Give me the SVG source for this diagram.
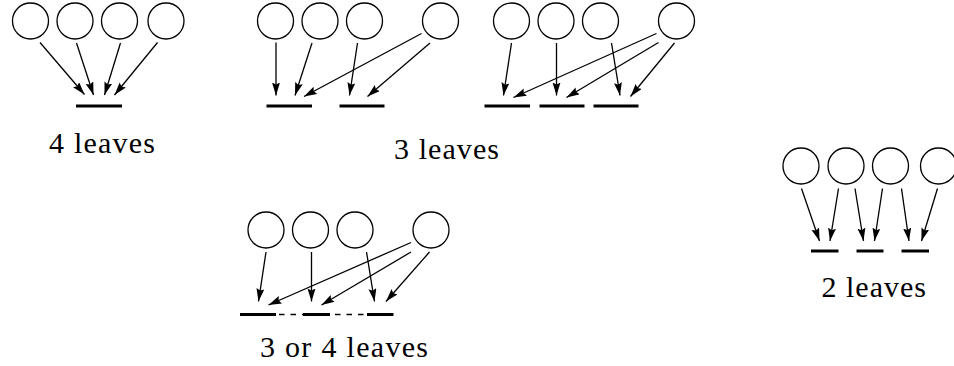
<svg xmlns="http://www.w3.org/2000/svg" width="954" height="366" viewBox="0 0 954 366">
<style>
.n{fill:#fff;stroke:#000;stroke-width:1.3}
.a{stroke:#000;stroke-width:1.3;fill:none;marker-end:url(#ah)}
.b{stroke:#000;stroke-width:3;fill:none}
.d{stroke:#000;stroke-width:1.4;fill:none;stroke-dasharray:5.5 6}
.t{font-family:"Liberation Serif","DejaVu Serif",serif;font-size:30px;fill:#000}
</style>
<defs>
<marker id="ah" markerUnits="userSpaceOnUse" markerWidth="14" markerHeight="9" refX="13" refY="4" orient="auto">
<path d="M0,0 L13,4 L0,8 L2,4 z" fill="#000"/>
</marker>
</defs>
<rect width="954" height="366" fill="#fff"/>
<g id="p1">
<circle class="n" cx="30.5" cy="21" r="18"/>
<circle class="n" cx="75" cy="21" r="18"/>
<circle class="n" cx="119.5" cy="21" r="18"/>
<circle class="n" cx="166" cy="21" r="18"/>
<line class="b" x1="76" y1="106" x2="122" y2="106"/>
<text class="t" x="49" y="152.5" textLength="106" lengthAdjust="spacing">4 leaves</text>
</g>
<g id="p2">
<circle class="n" cx="275.5" cy="21" r="18"/>
<circle class="n" cx="320" cy="21" r="18"/>
<circle class="n" cx="364.5" cy="21" r="18"/>
<circle class="n" cx="440.5" cy="21" r="18"/>
<line class="b" x1="266.5" y1="106" x2="312" y2="106"/>
<line class="b" x1="339.5" y1="106" x2="384.5" y2="106"/>
<text class="t" x="394" y="158.5" textLength="105" lengthAdjust="spacing">3 leaves</text>
</g>
<g id="p3">
<circle class="n" cx="511.5" cy="21" r="18"/>
<circle class="n" cx="556" cy="21" r="18"/>
<circle class="n" cx="600.5" cy="21" r="18"/>
<circle class="n" cx="676.5" cy="21" r="18"/>
<line class="b" x1="484.5" y1="106" x2="530" y2="106"/>
<line class="b" x1="539.5" y1="106" x2="584.5" y2="106"/>
<line class="b" x1="593.5" y1="106" x2="638.5" y2="106"/>
</g>
<g id="p4">
<circle class="n" cx="266" cy="230" r="18"/>
<circle class="n" cx="310.5" cy="230" r="18"/>
<circle class="n" cx="355" cy="230" r="18"/>
<circle class="n" cx="431" cy="230" r="18"/>
<line class="b" x1="240" y1="314.5" x2="276" y2="314.5"/>
<line class="d" x1="276" y1="314.5" x2="303" y2="314.5" stroke-dashoffset="-3"/>
<line class="b" x1="303" y1="314.5" x2="330" y2="314.5"/>
<line class="d" x1="330" y1="314.5" x2="367" y2="314.5" stroke-dashoffset="-5"/>
<line class="b" x1="367" y1="314.5" x2="393.5" y2="314.5"/>
<text class="t" x="260" y="357" textLength="168" lengthAdjust="spacing">3 or 4 leaves</text>
</g>
<g id="p5">
<circle class="n" cx="801" cy="166" r="18"/>
<circle class="n" cx="846" cy="166" r="18"/>
<circle class="n" cx="890.5" cy="166" r="18"/>
<circle class="n" cx="938.5" cy="166" r="18"/>
<line class="b" x1="811" y1="251" x2="838.5" y2="251"/>
<line class="b" x1="856.5" y1="251" x2="883.5" y2="251"/>
<line class="b" x1="901.5" y1="251" x2="929" y2="251"/>
<text class="t" x="821.5" y="296.5" textLength="104.5" lengthAdjust="spacing">2 leaves</text>
</g>
<g id="connectors">
<line class="a" x1="40" y1="42.5" x2="84.5" y2="94.5"/>
<line class="a" x1="76.5" y1="43" x2="93.5" y2="95"/>
<line class="a" x1="120.5" y1="43" x2="104.5" y2="95"/>
<line class="a" x1="157.5" y1="42.5" x2="114.5" y2="95"/>

<line class="a" x1="276" y1="42.5" x2="276" y2="95.5"/>
<line class="a" x1="312" y1="43" x2="295" y2="95.5"/>
<line class="a" x1="357.5" y1="43" x2="349.5" y2="95.5"/>
<line class="a" x1="421.5" y1="33.5" x2="304" y2="96.5"/>
<line class="a" x1="430" y1="43" x2="367.5" y2="96.5"/>

<line class="a" x1="511.5" y1="43" x2="503.5" y2="95.5"/>
<line class="a" x1="556.5" y1="43" x2="556.5" y2="95.5"/>
<line class="a" x1="611.5" y1="43" x2="620" y2="95.5"/>
<line class="a" x1="656.5" y1="33.5" x2="513.5" y2="97.5"/>
<line class="a" x1="658.5" y1="42.5" x2="566.5" y2="97.5"/>
<line class="a" x1="674.5" y1="43" x2="630.5" y2="96.5"/>

<line class="a" x1="266" y1="252" x2="258.5" y2="301.5"/>
<line class="a" x1="311.5" y1="252" x2="311.5" y2="301.5"/>
<line class="a" x1="366.5" y1="252" x2="374.5" y2="301.5"/>
<line class="a" x1="411" y1="242.5" x2="268.5" y2="305"/>
<line class="a" x1="411" y1="252" x2="321.5" y2="305"/>
<line class="a" x1="429.5" y1="252" x2="386" y2="301.5"/>

<line class="a" x1="801.5" y1="188.5" x2="819.5" y2="241"/>
<line class="a" x1="838.5" y1="188.5" x2="830" y2="241"/>
<line class="a" x1="855" y1="188.5" x2="863.5" y2="241"/>
<line class="a" x1="882.5" y1="188.5" x2="874.5" y2="241"/>
<line class="a" x1="901.5" y1="188.5" x2="909" y2="241"/>
<line class="a" x1="937.5" y1="188.5" x2="921.5" y2="241"/>
</g>
</svg>
